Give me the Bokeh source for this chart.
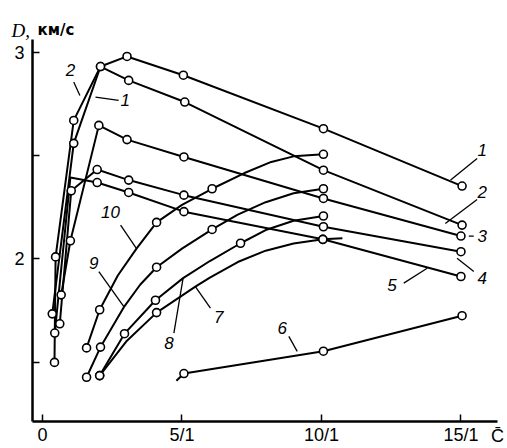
from bokeh.plotting import figure
from bokeh.models import Label, FixedTicker, Range1d
from bokeh.embed import file_html
from bokeh.resources import INLINE

# ---- data (x = C ratio, y = D, km/s); m = 1 where a circle is drawn
c1_x = [0.35, 1.12, 2.08, 3.03, 5.05, 10.07, 15.04]
c1_y = [1.734, 2.56, 2.932, 2.981, 2.89, 2.631, 2.353]
c1_m = [1, 1, 1, 1, 1, 1, 1]

c2_x = [0.43, 0.47, 1.12, 2.08, 3.09, 5.1, 10.07, 15.04]
c2_y = [1.499, 2.01, 2.671, 2.932, 2.865, 2.76, 2.43, 2.164]
c2_m = [1, 1, 1, 1, 1, 1, 1, 1]

c3_x = [0.67, 1.0, 2.02, 3.03, 5.07, 10.07, 15.0]
c3_y = [1.826, 2.088, 2.647, 2.578, 2.494, 2.293, 2.111]
c3_m = [1, 1, 1, 1, 1, 1, 1]

c4_x = [0.62, 1.03, 1.96, 3.09, 5.07, 10.07, 15.0]
c4_y = [1.686, 2.33, 2.433, 2.382, 2.309, 2.156, 2.035]
c4_m = [1, 1, 1, 1, 1, 1, 1]

c5_x = [0.44, 1.0, 1.96, 3.09, 5.07, 10.05, 15.0]
c5_y = [1.641, 2.395, 2.37, 2.322, 2.229, 2.095, 1.915]
c5_m = [1, 0, 1, 1, 1, 1, 1]

c6_x = [4.8, 5.07, 10.07, 15.04]
c6_y = [1.41, 1.445, 1.553, 1.725]
c6_m = [0, 1, 1, 1]

c7_x = [2.05, 3.0, 4.09, 5.48, 6.0, 7.0, 8.0, 9.0, 10.05, 10.75]
c7_y = [1.435, 1.60, 1.74, 1.866, 1.91, 1.985, 2.04, 2.075, 2.095, 2.10]
c7_m = [1, 0, 1, 0, 0, 0, 0, 0, 1, 0]

c8_x = [2.05, 2.94, 4.05, 5.04, 6.0, 7.1, 8.0, 9.0, 10.07]
c8_y = [1.435, 1.638, 1.80, 1.907, 1.99, 2.076, 2.14, 2.185, 2.208]
c8_m = [1, 1, 1, 0, 0, 1, 0, 0, 1]

c9_x = [1.58, 2.08, 2.91, 3.5, 4.09, 5.0, 6.08, 7.0, 8.0, 9.0, 10.07]
c9_y = [1.427, 1.573, 1.765, 1.875, 1.96, 2.05, 2.143, 2.215, 2.275, 2.318, 2.34]
c9_m = [1, 1, 0, 0, 1, 0, 1, 0, 0, 0, 1]

c10_x = [1.58, 2.05, 2.7, 3.37, 4.09, 5.0, 6.08, 7.22, 8.2, 9.0, 10.07]
c10_y = [1.569, 1.754, 1.92, 2.05, 2.177, 2.262, 2.34, 2.415, 2.47, 2.497, 2.507]
c10_m = [1, 1, 0, 0, 1, 0, 1, 0, 0, 0, 1]

x_ticks = [0, 5, 10, 15]
x_tick_labels = ["0", "5/1", "10/1", "15/1"]
y_ticks = [1.5, 2, 2.5, 3]
y_tick_labels = ["", "2", "", "3"]

CURVES = [(c1_x, c1_y, c1_m), (c2_x, c2_y, c2_m), (c3_x, c3_y, c3_m),
          (c4_x, c4_y, c4_m), (c5_x, c5_y, c5_m), (c6_x, c6_y, c6_m),
          (c7_x, c7_y, c7_m), (c8_x, c8_y, c8_m), (c9_x, c9_y, c9_m),
          (c10_x, c10_y, c10_m)]

# ---- annotation placement (label text, x, y) and leader segments
LABELS = [("1", 15.76, 2.527), ("2", 15.76, 2.325), ("3", 15.76, 2.111),
          ("4", 15.76, 1.907), ("5", 12.53, 1.874), ("6", 8.59, 1.665),
          ("7", 6.32, 1.721), ("8", 4.53, 1.593), ("9", 1.84, 1.979),
          ("10", 2.44, 2.229), ("2", 1.0, 2.913), ("1", 2.97, 2.768)]
LEADERS = [(15.58, 2.486, 14.63, 2.382), (15.58, 2.288, 14.44, 2.172),
           (15.28, 2.111, 15.46, 2.111), (14.86, 2.003, 15.46, 1.939),
           (12.95, 1.883, 13.79, 1.955), (8.83, 1.625, 9.13, 1.552),
           (6.02, 1.762, 5.48, 1.866), (4.71, 1.641, 5.04, 1.907),
           (2.02, 1.939, 2.91, 1.77), (2.80, 2.164, 3.37, 2.05),
           (1.12, 2.857, 1.34, 2.792), (1.90, 2.784, 2.73, 2.768)]

p = figure(width=507, height=448, output_backend="svg", toolbar_location=None,
           x_range=Range1d(-0.358, 16.31), y_range=Range1d(1.2126, 3.063),
           min_border_left=32, min_border_right=10, min_border_top=39,
           min_border_bottom=26)
p.outline_line_color = None
p.grid.visible = False
p.background_fill_color = "white"
p.border_fill_color = "white"

for ax in (p.xaxis[0], p.yaxis[0]):
    ax.axis_line_width = 2.5
    ax.axis_line_color = "black"
    ax.major_tick_in = 7
    ax.major_tick_out = 0
    ax.minor_tick_in = 0
    ax.minor_tick_out = 0
    ax.major_tick_line_width = 1.5
    ax.major_label_text_font = "Liberation Sans"
    ax.major_label_text_color = "black"
    ax.major_label_text_font_size = "18px"

xa = p.xaxis[0]
xa.ticker = FixedTicker(ticks=x_ticks)
xa.major_label_overrides = {t: s for t, s in zip(x_ticks, x_tick_labels)}
xa.major_label_standoff = 3
# axis title C-bar, pulled up into the tick-label row at the right end
xa.axis_label = "C\u0304"
xa.axis_label_text_font = "Liberation Sans"
xa.axis_label_text_font_style = "normal"
xa.axis_label_text_font_size = "18px"
xa.axis_label_text_color = "black"
xa.axis_label_standoff = -22
if "axis_label_align" in xa.properties():
    xa.axis_label_align = "end"

ya = p.yaxis[0]
ya.ticker = FixedTicker(ticks=y_ticks)
ya.major_label_overrides = {t: s for t, s in zip(y_ticks, y_tick_labels)}
ya.major_label_standoff = 8

for x, y, m in CURVES:
    p.line(x, y, line_width=2.0, line_color="black", line_join="round")

p.segment(x0=[s[0] for s in LEADERS], y0=[s[1] for s in LEADERS],
          x1=[s[2] for s in LEADERS], y1=[s[3] for s in LEADERS],
          line_width=1.3, line_color="black")

for x, y, m in CURVES:
    mx = [a for a, k in zip(x, m) if k]
    my = [b for b, k in zip(y, m) if k]
    p.scatter(mx, my, marker="circle", size=8, fill_color="white",
              line_color="black", line_width=1.6)

for t, lx, ly in LABELS:
    p.add_layout(Label(x=lx, y=ly, text=t, text_font="Liberation Sans",
                       text_font_style="italic", text_font_size="17px",
                       text_align="center", text_baseline="middle",
                       text_color="black"))

# y-axis title above the frame: placed in the top panel, positioned in canvas pixels
p.add_layout(Label(x=11, y=30, x_units="canvas", y_units="canvas", text="D,",
                   text_font="Liberation Serif", text_font_style="italic",
                   text_font_size="19px", text_align="left",
                   text_baseline="alphabetic", text_color="black"), "above")
p.add_layout(Label(x=37, y=29.5, x_units="canvas", y_units="canvas", text="км/с",
                   text_font="DejaVu Sans", text_font_style="bold",
                   text_font_size="15px", text_align="left",
                   text_baseline="alphabetic", text_color="black"), "above")

open("out.html", "w").write(file_html(p, INLINE))
